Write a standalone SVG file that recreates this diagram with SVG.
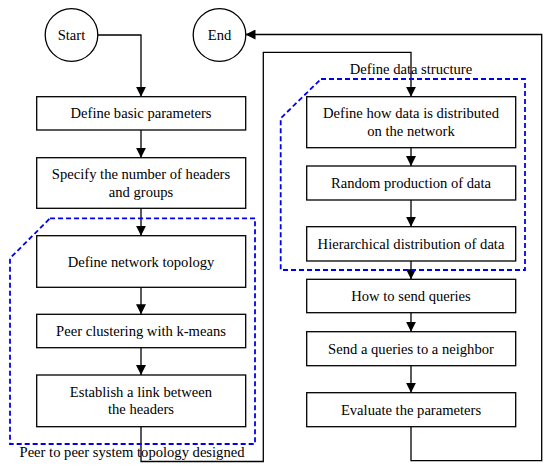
<svg xmlns="http://www.w3.org/2000/svg" width="550" height="472" viewBox="0 0 550 472">
<style>
.b{fill:#fff;stroke:#000;stroke-width:1.3}
.t{font-family:"Liberation Serif","Times New Roman",serif;font-size:14.6px;fill:#000;text-anchor:middle;dominant-baseline:central}
.c{fill:none;stroke:#000;stroke-width:1.3}
.d{fill:none;stroke:#0000ee;stroke-width:1.8;stroke-dasharray:5,3}
</style>
<defs>
<marker id="a" viewBox="0 0 10 10" refX="10" refY="5" markerWidth="10" markerHeight="10" markerUnits="userSpaceOnUse" orient="auto">
<path d="M0,0L10,5L0,10Z" fill="#000"/>
</marker>
</defs>
<rect width="550" height="472" fill="#fff"/>
<g id="connectors">
<path class="c" d="M97.5,35H141V96.7" marker-end="url(#a)"/>
<path class="c" d="M141,130V157.7" marker-end="url(#a)"/>
<path class="c" d="M141,208.3V235.7" marker-end="url(#a)"/>
<path class="c" d="M141,287.3V314.3" marker-end="url(#a)"/>
<path class="c" d="M141,347.7V375" marker-end="url(#a)"/>
<path class="c" d="M141,426.7V461.5H263.3V52.3H411V96.7" marker-end="url(#a)"/>
<path class="c" d="M411,147.7V166" marker-end="url(#a)"/>
<path class="c" d="M411,200V226.7" marker-end="url(#a)"/>
<path class="c" d="M411,261V279.3" marker-end="url(#a)"/>
<path class="c" d="M411,312.7V331.7" marker-end="url(#a)"/>
<path class="c" d="M411,365.7V392.7" marker-end="url(#a)"/>
<path class="c" d="M411,426.7V460.7H541.7V34.5H245.5" marker-end="url(#a)"/>
</g>
<g id="group-topology">
<path class="d" d="M50,218.3H255V444H10V258.3Z"/>
<text class="t" x="132" y="452.3">Peer to peer system topology designed</text>
</g>
<g id="group-data">
<path class="d" d="M321,79H525V270H280.7V118.3Z"/>
<text class="t" x="411" y="69.3">Define data structure</text>
</g>
<g id="start"><circle class="b" cx="71.5" cy="35" r="26.3"/><text class="t" x="71.5" y="35">Start</text></g>
<g id="end"><circle class="b" cx="219.5" cy="35" r="26.3"/><text class="t" x="219.5" y="35">End</text></g>
<g id="n1"><rect class="b" x="36.7" y="96.7" width="209" height="33.3"/><text class="t" x="141" y="113.3">Define basic parameters</text></g>
<g id="n2"><rect class="b" x="36.7" y="157.7" width="209" height="50.6"/><text class="t" x="141" y="174.3">Specify the number of headers</text><text class="t" x="141" y="191.7">and groups</text></g>
<g id="n3"><rect class="b" x="36.7" y="235.7" width="209" height="51.6"/><text class="t" x="141" y="261.5">Define network topology</text></g>
<g id="n4"><rect class="b" x="36.7" y="314.3" width="209" height="33.4"/><text class="t" x="141" y="331">Peer clustering with k-means</text></g>
<g id="n5"><rect class="b" x="36.7" y="375" width="209" height="51.7"/><text class="t" x="141" y="391.7">Establish a link between</text><text class="t" x="141" y="409.3">the headers</text></g>
<g id="n6"><rect class="b" x="306.7" y="96.7" width="209" height="51"/><text class="t" x="411" y="113.3">Define how data is distributed</text><text class="t" x="411" y="130.7">on the network</text></g>
<g id="n7"><rect class="b" x="306.7" y="166" width="209" height="34"/><text class="t" x="411" y="183">Random production of data</text></g>
<g id="n8"><rect class="b" x="306.7" y="226.7" width="209" height="34.3"/><text class="t" x="411" y="243.8">Hierarchical distribution of data</text></g>
<g id="n9"><rect class="b" x="306.7" y="279.3" width="209" height="33.4"/><text class="t" x="411" y="296">How to send queries</text></g>
<g id="n10"><rect class="b" x="306.7" y="331.7" width="209" height="34"/><text class="t" x="411" y="348.7">Send a queries to a neighbor</text></g>
<g id="n11"><rect class="b" x="306.7" y="392.7" width="209" height="34"/><text class="t" x="411" y="409.7">Evaluate the parameters</text></g>
</svg>
